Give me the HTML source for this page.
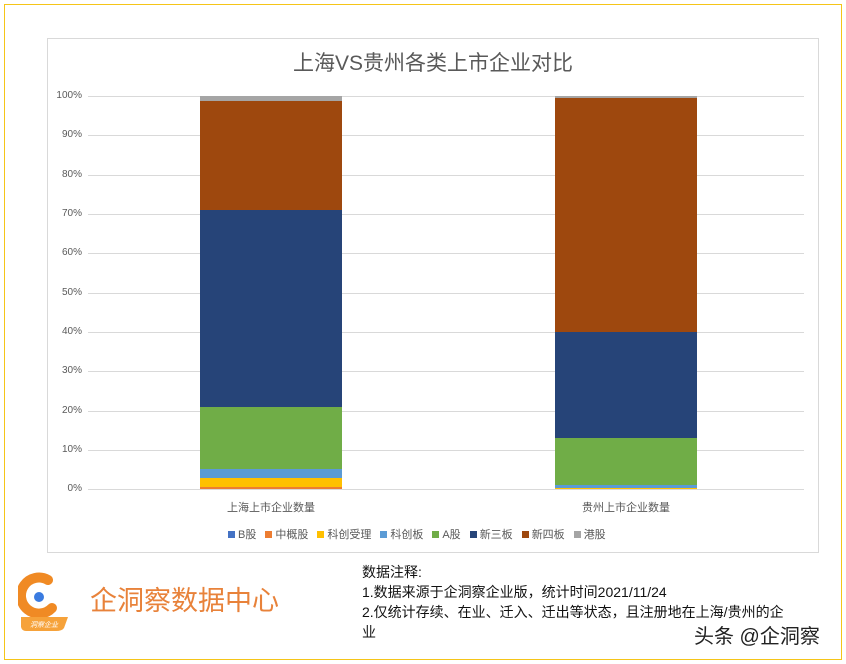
<!DOCTYPE html>
<html><head><meta charset="utf-8"><style>
*{margin:0;padding:0;box-sizing:border-box}
body{width:846px;height:664px;background:#fff;position:relative;overflow:hidden;font-family:"Liberation Sans","Noto Sans CJK SC",sans-serif;}
.a{position:absolute}
.grid{position:absolute;left:88px;width:716px;height:1px;background:#d9d9d9}
.yl{position:absolute;left:50px;width:32px;text-align:right;font-size:10px;color:#595959}
.seg{position:absolute}
.lg{display:inline-flex;align-items:center;margin-right:9px}
.lg i{display:inline-block;width:7px;height:7px;margin-right:3px}
</style></head><body>
<div class="a" style="left:4px;top:4px;width:838px;height:656px;border:1.5px solid #f5c518"></div>
<div class="a" style="left:47px;top:38px;width:772px;height:515px;border:1px solid #d9d9d9"></div>
<div class="a" style="left:47px;top:47px;width:772px;text-align:center;font-size:21px;color:#595959">上海VS贵州各类上市企业对比</div>

<div class="grid" style="top:96px"></div><div class="grid" style="top:135px"></div><div class="grid" style="top:175px"></div><div class="grid" style="top:214px"></div><div class="grid" style="top:253px"></div><div class="grid" style="top:293px"></div><div class="grid" style="top:332px"></div><div class="grid" style="top:371px"></div><div class="grid" style="top:411px"></div><div class="grid" style="top:450px"></div><div class="grid" style="top:489px"></div>
<div class="yl" style="top:90px">100%</div><div class="yl" style="top:129px">90%</div><div class="yl" style="top:169px">80%</div><div class="yl" style="top:208px">70%</div><div class="yl" style="top:247px">60%</div><div class="yl" style="top:287px">50%</div><div class="yl" style="top:326px">40%</div><div class="yl" style="top:365px">30%</div><div class="yl" style="top:405px">20%</div><div class="yl" style="top:444px">10%</div><div class="yl" style="top:483px">0%</div>

<div class="seg" style="left:200px;width:142px;top:96px;height:5px;background:#a5a5a5"></div>
<div class="seg" style="left:200px;width:142px;top:101px;height:109px;background:#9e480e"></div>
<div class="seg" style="left:200px;width:142px;top:210px;height:197px;background:#264478"></div>
<div class="seg" style="left:200px;width:142px;top:407px;height:62px;background:#70ad47"></div>
<div class="seg" style="left:200px;width:142px;top:469px;height:9px;background:#5b9bd5"></div>
<div class="seg" style="left:200px;width:142px;top:478px;height:9px;background:#ffc000"></div>
<div class="seg" style="left:200px;width:142px;top:487px;height:2px;background:#ed7d31"></div>
<div class="seg" style="left:555px;width:142px;top:96px;height:2px;background:#a5a5a5"></div>
<div class="seg" style="left:555px;width:142px;top:98px;height:234px;background:#9e480e"></div>
<div class="seg" style="left:555px;width:142px;top:332px;height:106px;background:#264478"></div>
<div class="seg" style="left:555px;width:142px;top:438px;height:47px;background:#70ad47"></div>
<div class="seg" style="left:555px;width:142px;top:485px;height:3px;background:#5b9bd5"></div>
<div class="seg" style="left:555px;width:142px;top:488px;height:1px;background:#ffc000"></div>

<div class="a" style="left:171px;top:499px;width:200px;text-align:center;font-size:11px;color:#595959">上海上市企业数量</div>
<div class="a" style="left:526px;top:499px;width:200px;text-align:center;font-size:11px;color:#595959">贵州上市企业数量</div>

<div class="a" style="left:228px;top:526px;font-size:11px;color:#595959;white-space:nowrap">
<span class="lg"><i style="background:#4472c4"></i>B股</span><span class="lg"><i style="background:#ed7d31"></i>中概股</span><span class="lg"><i style="background:#ffc000"></i>科创受理</span><span class="lg"><i style="background:#5b9bd5"></i>科创板</span><span class="lg"><i style="background:#70ad47"></i>A股</span><span class="lg"><i style="background:#264478"></i>新三板</span><span class="lg"><i style="background:#9e480e"></i>新四板</span><span class="lg"><i style="background:#a5a5a5"></i>港股</span>
</div>

<svg class="a" style="left:18px;top:572px" width="52" height="62" viewBox="0 0 52 62">
<path d="M30 8 A18 18 0 1 0 34 36" fill="none" stroke="#f08a24" stroke-width="10" stroke-linecap="round"/>
<circle cx="21" cy="25" r="5" fill="#3a7be0"/>
<path d="M3 45 L50 45 L46 56 Q44 59 38 59 L8 59 Q4 59 3 55 Z" fill="#f6a23a"/>
<text x="26" y="55" font-size="7" fill="#fff" text-anchor="middle" font-family="Noto Sans CJK SC,sans-serif" font-style="italic">洞察企业</text>
</svg>
<div class="a" style="left:90px;top:579px;font-size:27px;color:#e8823a;font-family:'Noto Sans CJK SC',sans-serif">企洞察数据中心</div>

<div class="a" style="left:362px;top:562px;font-size:14px;color:#111;line-height:20px;width:450px">数据注释:<br>1.数据来源于企洞察企业版，统计时间2021/11/24<br>2.仅统计存续、在业、迁入、迁出等状态，且注册地在上海/贵州的企<br>业</div>
<div class="a" style="left:694px;top:620px;font-size:20px;color:#222">头条 @企洞察</div>
</body></html>
